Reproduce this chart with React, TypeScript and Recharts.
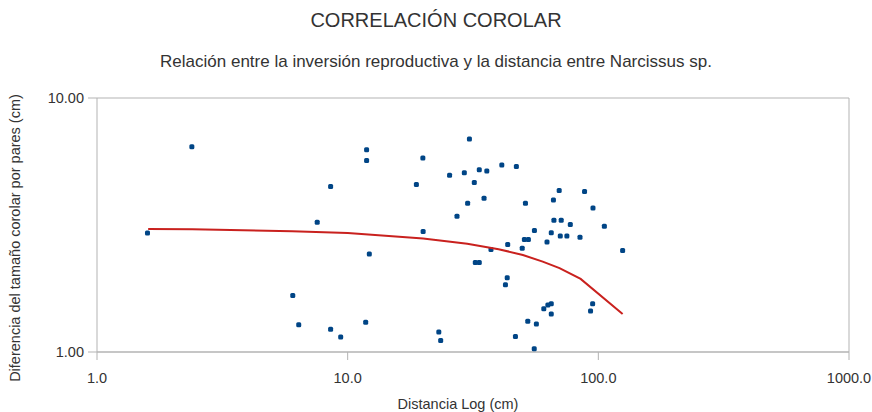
import React from 'react';
import {
  ScatterChart,
  Scatter,
  XAxis,
  YAxis,
  CartesianGrid,
  ReferenceLine,
} from 'recharts';

// Distance between plant pairs (cm)
const distances = [
  1.59, 2.39, 11.9, 11.9, 8.55, 7.56, 12.2, 6.04, 6.38, 8.55, 9.38, 11.8,
  30.6, 19.95, 18.8, 20.0, 25.5, 29.2, 32.0, 33.5, 35.9, 41.2, 47.1, 30.1,
  35.0, 27.3, 51.2, 69.8, 66.2, 88.1, 95.2, 66.5, 71.1, 77.3, 105.7, 55.6,
  64.9, 70.5, 74.9, 84.5, 50.7, 52.6, 62.4, 43.5, 49.7, 37.3, 125.0, 32.3,
  33.5, 43.3, 42.6, 64.9, 62.9, 60.6, 64.9, 94.9, 93.1, 52.3, 56.6, 23.1,
  23.5, 46.7, 55.5,
];

// Corolla size difference per pair (cm)
const differences = [
  2.94, 6.43, 6.25, 5.68, 4.48, 3.24, 2.43, 1.67, 1.28, 1.23, 1.145, 1.31,
  6.89, 5.8, 4.57, 2.98, 4.96, 5.08, 4.65, 5.22, 5.16, 5.45, 5.38, 3.85,
  4.03, 3.42, 3.85, 4.32, 3.97, 4.28, 3.69, 3.3, 3.3, 3.18, 3.13, 3.01,
  2.95, 2.86, 2.86, 2.83, 2.77, 2.77, 2.71, 2.65, 2.56, 2.53, 2.51, 2.25,
  2.25, 1.96, 1.84, 1.55, 1.53, 1.48, 1.41, 1.55, 1.45, 1.32, 1.29, 1.2,
  1.11, 1.15, 1.03,
];

// Trend line
const trendDistances = [1.6, 2.4, 6, 10, 20, 30, 40, 50, 60, 70, 85, 125];
const trendValues = [3.05, 3.04, 2.99, 2.94, 2.8, 2.67, 2.54, 2.41, 2.27, 2.14, 1.94, 1.41];

const xTicks = [1, 10, 100, 1000];
const yTicks = [1, 10];

const points = distances.map((x, i) => ({ x, y: differences[i] }));
const trend = trendDistances.map((x, i) => ({ x, y: trendValues[i] }));

const FONT = '"Liberation Sans", Arial, sans-serif';
const TEXT = '#333333';
const GRID = '#b3b3b3';

const SquareDot = (props: any) => {
  const { cx, cy } = props;
  if (cx == null || cy == null) return <g />;
  return <rect x={cx - 2.5} y={cy - 2.5} width={5} height={5} rx={1.5} fill="#004586" />;
};

const NoDot = () => <g />;

export default function App() {
  return (
    <div style={{ position: 'absolute', left: 0, top: 0, width: 872, height: 412, background: '#fff', fontFamily: FONT }}>
      <div style={{ position: 'absolute', left: 0, width: 872, top: 20, transform: 'translateY(-50%)', textAlign: 'center', fontSize: 20, color: TEXT }}>
        CORRELACIÓN COROLAR
      </div>
      <div style={{ position: 'absolute', left: 0, width: 872, top: 62, transform: 'translateY(-50%)', textAlign: 'center', fontSize: 17, color: TEXT }}>
        Relación entre la inversión reproductiva y la distancia entre Narcissus sp.
      </div>
      <div
        style={{
          position: 'absolute',
          left: 15,
          top: 238,
          transform: 'translate(-50%, -50%) rotate(-90deg)',
          whiteSpace: 'nowrap',
          fontSize: 14.5,
          color: TEXT,
        }}
      >
        Diferencia del tamaño corolar por pares (cm)
      </div>
      <div style={{ position: 'absolute', left: 458, top: 404, transform: 'translate(-50%, -50%)', whiteSpace: 'nowrap', fontSize: 14.5, color: TEXT }}>
        Distancia Log (cm)
      </div>
      <ScatterChart width={872} height={412} margin={{ top: 98, right: 23, bottom: 30, left: 0 }}>
        <CartesianGrid horizontal vertical={false} stroke={GRID} horizontalValues={yTicks} />
        <ReferenceLine x={1000} stroke={GRID} />
        <XAxis
          type="number"
          dataKey="x"
          scale="log"
          domain={[1, 1000]}
          ticks={xTicks}
          allowDataOverflow
          height={30}
          stroke={GRID}
          tickSize={8}
          tickMargin={13}
          tick={{ fill: TEXT, fontSize: 14.5, fontFamily: FONT }}
          tickFormatter={(v: number) => v.toFixed(1)}
        />
        <YAxis
          type="number"
          dataKey="y"
          scale="log"
          domain={[1, 10]}
          ticks={yTicks}
          allowDataOverflow
          width={97}
          stroke={GRID}
          tickSize={9}
          tickMargin={4}
          tick={{ fill: TEXT, fontSize: 14.5, fontFamily: FONT }}
          tickFormatter={(v: number) => v.toFixed(2)}
        />
        <Scatter data={points} shape={SquareDot} isAnimationActive={false} />
        <Scatter
          data={trend}
          shape={NoDot}
          line={{ stroke: '#c9211e', strokeWidth: 2 }}
          lineType="joint"
          isAnimationActive={false}
        />
      </ScatterChart>
    </div>
  );
}
